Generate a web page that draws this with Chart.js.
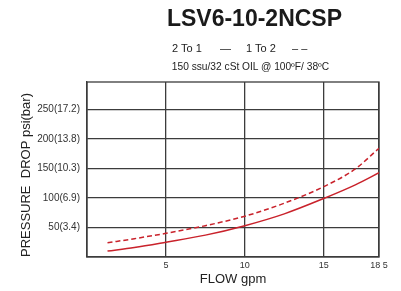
<!DOCTYPE html>
<html>
<head>
<meta charset="utf-8">
<script src="https://cdn.jsdelivr.net/npm/chart.js@4.4.1/dist/chart.umd.min.js"></script>
<style>
    html, body { margin: 0; padding: 0; background: #fff; }
    #wrap { position: relative; width: 401px; height: 291px; font-family: "Liberation Sans", Arial, sans-serif; color: #222; }
    #chart { position: absolute; left: 0; top: 0; }
    .txt { position: absolute; white-space: nowrap; line-height: 1; }
    #title { left: 0; width: 509px; top: 7px; text-align: center; font-size: 23px; font-weight: bold; color: #1a1a1a; }
    #sub { left: 0; width: 501px; top: 61.5px; text-align: center; font-size: 10.2px; }
    .leg { top: 43px; font-size: 11px; }
</style>
</head>
<body>
<div id="wrap">
    <canvas id="chart" width="401" height="291"></canvas>
    <div class="txt" id="title">LSV6-10-2NCSP</div>
    <div class="txt leg" style="left:172px">2 To 1</div>
    <div class="txt leg" style="left:220px">—</div>
    <div class="txt leg" style="left:246px">1 To 2</div>
    <div class="txt leg" style="left:292px">– –</div>
    <div class="txt" id="sub">150 ssu/32 cSt OIL @ 100ºF/ 38ºC</div>
</div>
<script>
// Flow (gpm) and pressure drop (psi)
const flow = [1.3, 3, 5, 7.5, 10, 12.5, 15, 17, 18.5];
const dropTwoToOne = [10, 16, 25, 37, 53, 73, 99, 122, 142.5];
const dropOneToTwo = [24, 31, 40, 53, 69, 91, 119, 149, 184];

// Axis ticks
const xTicks = [5, 10, 15, 18.5];
const xTickLabels = ['5', '10', '15', '18 5'];
const yTicks = [50, 100, 150, 200, 250];
const yTickLabels = ['50(3.4)', '100(6.9)', '150(10.3)', '200(13.8)', '250(17.2)'];

const red = '#c9222b';
const gridColor = '#3c3c3c';

function toPoints(ys) {
    return flow.map((x, i) => ({ x: x, y: ys[i] }));
}

// Draws the box round the plot area (top edge has no grid line)
const framePlugin = {
    id: 'frame',
    beforeDatasetsDraw(chart) {
        const a = chart.chartArea;
        const ctx = chart.ctx;
        ctx.save();
        ctx.strokeStyle = gridColor;
        ctx.lineWidth = 1.3;
        ctx.strokeRect(a.left, a.top, a.right - a.left, a.bottom - a.top);
        ctx.restore();
    }
};

const ctx = document.getElementById('chart').getContext('2d');
new Chart(ctx, {
    type: 'line',
    data: {
        datasets: [
            {
                label: '2 To 1',
                data: toPoints(dropTwoToOne),
                borderColor: red,
                borderWidth: 1.5,
                pointRadius: 0,
                cubicInterpolationMode: 'monotone',
                fill: false
            },
            {
                label: '1 To 2',
                data: toPoints(dropOneToTwo),
                borderColor: red,
                borderWidth: 1.5,
                borderDash: [5, 3],
                pointRadius: 0,
                cubicInterpolationMode: 'monotone',
                fill: false
            }
        ]
    },
    options: {
        responsive: false,
        animation: false,
        layout: { padding: { top: 82, right: 22, left: 0, bottom: 0 } },
        plugins: {
            legend: { display: false },
            tooltip: { enabled: false }
        },
        scales: {
            x: {
                type: 'linear',
                min: 0,
                max: 18.5,
                afterBuildTicks: scale => { scale.ticks = xTicks.map(v => ({ value: v })); },
                afterFit: scale => { scale.height = 34; },
                ticks: {
                    padding: 3,
                    color: '#333',
                    font: { family: 'Liberation Sans', size: 9 },
                    callback: value => xTickLabels[xTicks.indexOf(value)]
                },
                grid: { color: gridColor, lineWidth: 1.3, drawTicks: false },
                border: { color: gridColor, width: 1.3 },
                title: {
                    display: true,
                    text: 'FLOW gpm',
                    color: '#222',
                    font: { family: 'Liberation Sans', size: 13 },
                    padding: { top: 0, bottom: 4 }
                }
            },
            y: {
                type: 'linear',
                min: 0,
                max: 296,
                afterBuildTicks: scale => { scale.ticks = yTicks.map(v => ({ value: v })); },
                afterFit: scale => { scale.width = 87; },
                ticks: {
                    padding: 7,
                    color: '#333',
                    font: { family: 'Liberation Sans', size: 10 },
                    callback: value => yTickLabels[yTicks.indexOf(value)]
                },
                grid: { color: gridColor, lineWidth: 1.3, drawTicks: false },
                border: { color: gridColor, width: 1.3 },
                title: {
                    display: true,
                    text: 'PRESSURE  DROP psi(bar)',
                    align: 'start',
                    color: '#222',
                    font: { family: 'Liberation Sans', size: 13 },
                    padding: { top: 19, bottom: 0 }
                }
            }
        }
    },
    plugins: [framePlugin]
});
</script>
</body>
</html>
